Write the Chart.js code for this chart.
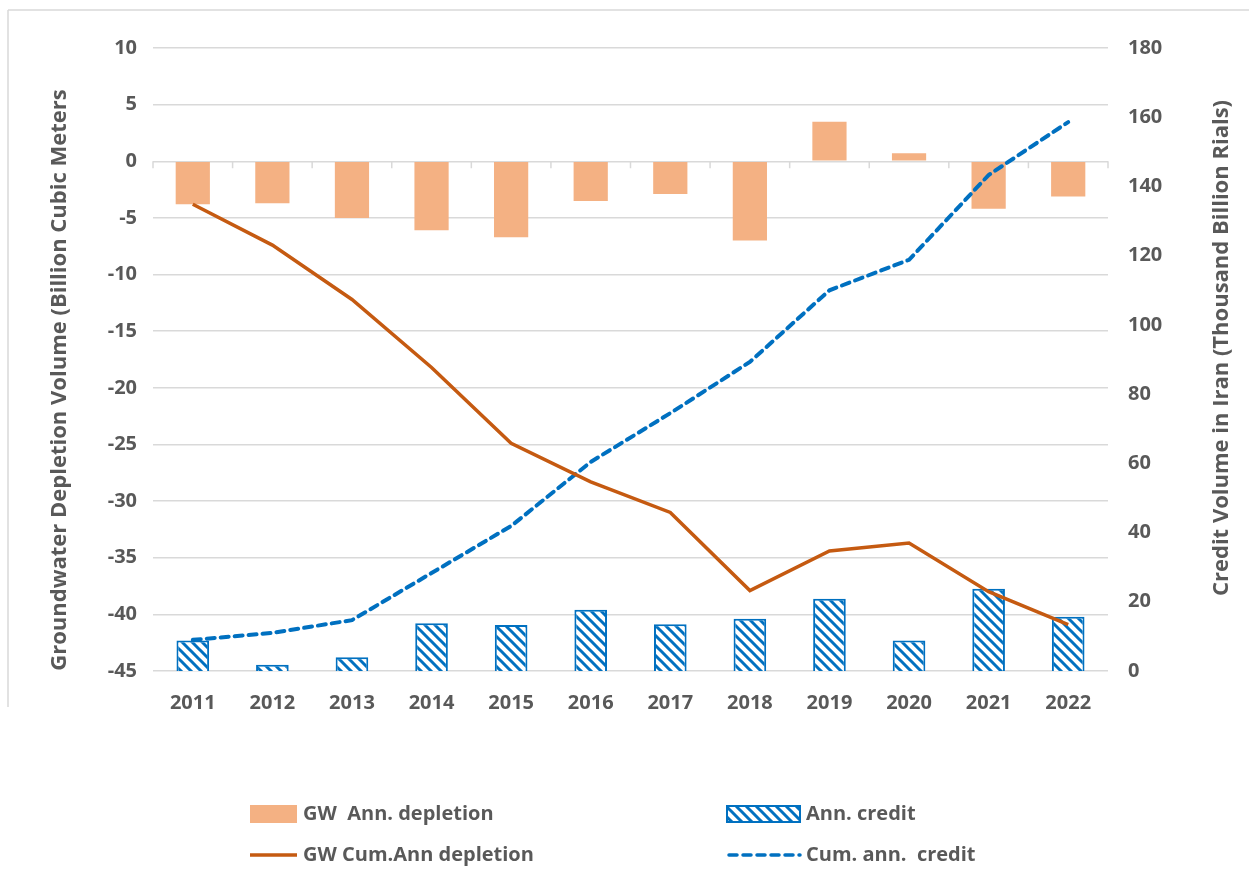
<!DOCTYPE html>
<html>
<head>
<meta charset="utf-8">
<script src="https://cdn.jsdelivr.net/npm/chart.js@4"></script>
<style>
  html, body { margin: 0; padding: 0; background: #fff; }
  #wrap { width: 1249px; height: 888px; position: relative; }
</style>
</head>
<body>
<div id="wrap"><canvas id="chart" width="1249" height="888"></canvas></div>
<script>
// data
var years = ['2011', '2012', '2013', '2014', '2015', '2016', '2017', '2018', '2019', '2020', '2021', '2022'];
var gwAnnDepletion = [-3.8, -3.7, -5.0, -6.1, -6.7, -3.5, -2.9, -7.0, 3.5, 0.7, -4.2, -3.1];
var gwCumDepletion = [-3.8, -7.4, -12.2, -18.2, -24.9, -28.3, -31.0, -37.9, -34.4, -33.7, -38.0, -40.9];
var annCredit = [8.8, 1.8, 4.0, 13.8, 13.3, 17.7, 13.5, 15.1, 20.9, 8.8, 23.8, 15.7];
var cumCredit = [9, 11, 14.7, 28.3, 41.9, 60.4, 74.5, 89.3, 110, 118.8, 143.3, 158.6];

var leftTitle = 'Groundwater Depletion Volume (Billion Cubic Meters';
var rightTitle = 'Credit Volume in Iran (Thousand Billion Rials)';

var ORANGE_BAR = '#F4B183';
var ORANGE_LINE = '#C55A11';
var BLUE = '#0070C0';
var GREY_TXT = '#595959';
var GRID = '#D9D9D9';
var FONT = '"Open Sans", "Noto Sans", sans-serif';

// diagonal hatch like the Excel "wide downward diagonal" pattern
function makeHatch() {
    var size = 10;
    var c = document.createElement('canvas');
    c.width = size;
    c.height = size;
    var g = c.getContext('2d');
    g.fillStyle = '#fff';
    g.fillRect(0, 0, size, size);
    g.strokeStyle = BLUE;
    g.lineWidth = 3;
    g.beginPath();
    g.moveTo(-2, -2); g.lineTo(size + 2, size + 2);
    g.moveTo(-2, size - 2); g.lineTo(2, size + 2);
    g.moveTo(size - 2, -2); g.lineTo(size + 2, 2);
    g.stroke();
    return g.createPattern(c, 'repeat');
}
var hatch = makeHatch();

// axis titles (both read bottom-to-top), zero-line tick marks, and the 2x2 legend
var decorations = {
    id: 'decorations',
    beforeDatasetsDraw: function (chart) {
        var ctx = chart.ctx;
        var x = chart.scales.x;
        var y = chart.scales.y;
        var y0 = y.getPixelForValue(0);
        ctx.save();
        ctx.strokeStyle = GRID;
        ctx.lineWidth = 1.5;
        ctx.beginPath();
        for (var i = 0; i <= years.length; i++) {
            var px = x.left + i * (x.width / years.length);
            ctx.moveTo(px, y0);
            ctx.lineTo(px, y0 + 7);
        }
        ctx.stroke();
        ctx.restore();
    },
    afterDraw: function (chart) {
        var ctx = chart.ctx;
        ctx.save();

        // faint frame edges
        ctx.strokeStyle = GRID;
        ctx.lineWidth = 1.5;
        ctx.beginPath();
        ctx.moveTo(8, 10); ctx.lineTo(1249, 10);
        ctx.moveTo(8, 10); ctx.lineTo(8, 707);
        ctx.stroke();

        ctx.fillStyle = GREY_TXT;
        ctx.font = 'bold 22px ' + FONT;
        ctx.textAlign = 'center';
        ctx.textBaseline = 'middle';

        ctx.save();
        ctx.translate(60, 380);
        ctx.rotate(-Math.PI / 2);
        ctx.fillText(leftTitle, 0, 0);
        ctx.restore();

        ctx.save();
        ctx.translate(1222, 348);
        ctx.rotate(-Math.PI / 2);
        ctx.fillText(rightTitle, 0, 0);
        ctx.restore();

        // legend
        var rows = [814, 855];
        var cols = [250, 727];
        var sw = [47, 73];
        ctx.textAlign = 'left';
        ctx.font = 'bold 20px ' + FONT;

        ctx.fillStyle = ORANGE_BAR;
        ctx.fillRect(cols[0], rows[0] - 9, sw[0], 18);
        ctx.fillStyle = GREY_TXT;
        ctx.fillText('GW  Ann. depletion', cols[0] + sw[0] + 6, rows[0]);

        ctx.strokeStyle = ORANGE_LINE;
        ctx.lineWidth = 3.5;
        ctx.beginPath();
        ctx.moveTo(cols[0], rows[1]);
        ctx.lineTo(cols[0] + sw[0], rows[1]);
        ctx.stroke();
        ctx.fillText('GW Cum.Ann depletion', cols[0] + sw[0] + 6, rows[1]);

        ctx.fillStyle = hatch;
        ctx.fillRect(cols[1], rows[0] - 8, sw[1], 16);
        ctx.strokeStyle = BLUE;
        ctx.lineWidth = 2;
        ctx.strokeRect(cols[1], rows[0] - 8, sw[1], 16);
        ctx.fillStyle = GREY_TXT;
        ctx.fillText('Ann. credit', cols[1] + sw[1] + 6, rows[0]);

        ctx.strokeStyle = BLUE;
        ctx.lineWidth = 3.5;
        ctx.lineCap = 'round';
        ctx.setLineDash([8, 6]);
        ctx.beginPath();
        ctx.moveTo(cols[1] + 2, rows[1]);
        ctx.lineTo(cols[1] + sw[1], rows[1]);
        ctx.stroke();
        ctx.setLineDash([]);
        ctx.fillText('Cum. ann.  credit', cols[1] + sw[1] + 6, rows[1]);

        ctx.restore();
    }
};

var ctx = document.getElementById('chart').getContext('2d');
var chart = new Chart(ctx, {
    type: 'bar',
    data: {
        labels: years,
        datasets: [{
            type: 'line',
            label: 'GW Cum.Ann depletion',
            data: gwCumDepletion,
            yAxisID: 'y',
            borderColor: ORANGE_LINE,
            borderWidth: 3.5,
            pointRadius: 0,
            tension: 0,
            order: 0
        }, {
            type: 'line',
            label: 'Cum. ann.  credit',
            data: cumCredit,
            yAxisID: 'y1',
            borderColor: BLUE,
            borderWidth: 4,
            borderDash: [8, 6],
            borderCapStyle: 'round',
            pointRadius: 0,
            tension: 0,
            order: 0
        }, {
            label: 'GW  Ann. depletion',
            data: gwAnnDepletion,
            yAxisID: 'y',
            backgroundColor: ORANGE_BAR,
            grouped: false,
            categoryPercentage: 1,
            barPercentage: 0.43,
            order: 2
        }, {
            label: 'Ann. credit',
            data: annCredit,
            yAxisID: 'y1',
            backgroundColor: hatch,
            borderColor: BLUE,
            borderWidth: 2,
            grouped: false,
            categoryPercentage: 1,
            barPercentage: 0.41,
            order: 1
        }]
    },
    options: {
        responsive: false,
        animation: false,
        layout: { padding: { top: 48, left: 0, right: 0, bottom: 0 } },
        plugins: {
            legend: { display: false },
            tooltip: { enabled: false }
        },
        scales: {
            x: {
                grid: { display: false },
                border: { display: false },
                ticks: {
                    color: GREY_TXT,
                    font: { family: FONT, size: 20, weight: 'bold' },
                    padding: 12,
                    maxRotation: 0
                },
                afterFit: function (s) { s.height = 217; }
            },
            y: {
                position: 'left',
                min: -45,
                max: 10,
                border: { display: false },
                grid: { color: GRID, lineWidth: 1.5, drawTicks: false },
                ticks: {
                    stepSize: 5,
                    color: GREY_TXT,
                    font: { family: FONT, size: 20, weight: 'bold' },
                    padding: 16
                },
                afterFit: function (s) { s.width = 153; }
            },
            y1: {
                position: 'right',
                min: 0,
                max: 180,
                border: { display: false },
                grid: { display: false, drawTicks: false },
                ticks: {
                    stepSize: 20,
                    color: GREY_TXT,
                    font: { family: FONT, size: 20, weight: 'bold' },
                    padding: 20
                },
                afterFit: function (s) { s.width = 141; }
            }
        }
    },
    plugins: [decorations]
});
</script>
</body>
</html>
